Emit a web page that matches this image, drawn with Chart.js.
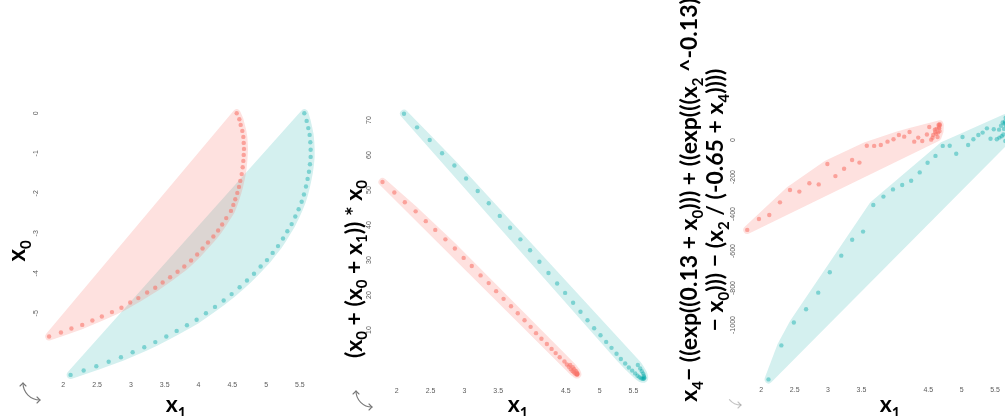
<!DOCTYPE html>
<html>
<head>
<meta charset="utf-8">
<script src="https://cdn.jsdelivr.net/npm/chart.js@4.4.0/dist/chart.umd.min.js"></script>
<style>
html, body { margin:0; padding:0; background:#fff; overflow:hidden; width:1005px; height:416px; }
canvas { position:absolute; top:0; }
</style>
</head>
<body>
<canvas id="p1" style="left:0px" width="335" height="416"></canvas>
<canvas id="p2" style="left:335px" width="335" height="416"></canvas>
<canvas id="p3" style="left:670px" width="370" height="416"></canvas>
<script>
// group A (red) and group B (teal); the same rows are used in all three panels
const x1A = [1.79,1.965,2.12,2.28,2.43,2.57,2.72,2.86,2.99,3.11,3.24,3.36,3.47,3.58,3.69,3.79,3.89,3.98,4.06,4.14,4.22,4.29,4.35,4.41,4.48,4.515,4.544,4.574,4.599,4.618,4.639,4.654,4.663,4.669,4.673,4.669,4.663,4.648,4.624,4.604,4.565];
const x0A = [-5.58,-5.48,-5.38,-5.29,-5.18,-5.08,-4.97,-4.86,-4.73,-4.62,-4.48,-4.36,-4.23,-4.10,-3.96,-3.83,-3.68,-3.53,-3.38,-3.23,-3.08,-2.93,-2.78,-2.62,-2.44,-2.29,-2.15,-1.99,-1.84,-1.69,-1.52,-1.35,-1.19,-1.04,-0.89,-0.74,-0.59,-0.44,-0.29,-0.15,0];
const fA = [52.3,49.3,46.5,43.9,41.1,38.6,35.9,33.3,30.6,28.3,25.6,23.4,21.1,18.9,16.8,14.8,12.8,10.9,9.1,7.5,6.0,4.6,3.4,2.2,1.0,0.15,-0.5,-1.2,-1.7,-2.1,-2.4,-2.6,-2.7,-2.7,-2.6,-2.4,-2.1,-1.7,-1.2,-0.65,0];
const gA = [-486,-427,-405,-337,-270,-279,-234,-240,-130,-195,-155,-108,-122,-31,-32,-27,-9,4,27,18,43,-9,13,-5,30,70,2,27,56,34,16,81,63,85,80,48,70,40,60,42,12];

const x1B = [2.108,2.301,2.488,2.671,2.853,3.026,3.198,3.361,3.524,3.677,3.829,3.972,4.110,4.244,4.372,4.490,4.608,4.717,4.821,4.919,5.013,5.097,5.176,5.250,5.314,5.378,5.432,5.481,5.526,5.560,5.590,5.614,5.634,5.649,5.659,5.659,5.654,5.644,5.624,5.600,5.565];
const x0B = [-6.54,-6.43,-6.325,-6.21,-6.10,-5.975,-5.85,-5.72,-5.58,-5.44,-5.30,-5.16,-5.00,-4.84,-4.68,-4.52,-4.35,-4.18,-4.01,-3.83,-3.67,-3.49,-3.32,-3.13,-2.95,-2.77,-2.58,-2.40,-2.21,-2.03,-1.83,-1.64,-1.46,-1.275,-1.09,-0.91,-0.725,-0.54,-0.37,-0.19,0];
const fB = [71.8,67.9,64.3,60.5,57.0,53.3,49.7,46.2,42.6,39.2,35.9,32.8,29.5,26.3,23.3,20.6,17.8,15.2,12.8,10.5,8.5,6.6,4.9,3.2,1.7,0.45,-0.7,-1.6,-2.4,-3.05,-3.5,-3.8,-3.95,-3.95,-3.8,-3.5,-3.05,-2.45,-1.8,-1.0,0];
const gB = [-1294,-1110,-986,-915,-825,-715,-625,-539,-495,-351,-306,-267,-243,-220,-175,-123,-86,-32,-31,-74,16,-27,4,27,40,63,7,58,4,56,77,95,60,100,80,120,-5,90,30,20,13];

const xTicks = [2,2.5,3,3.5,4,4.5,5,5.5];
const xLabels1 = ['2','2.5','3','3.5','4','4.5','5','5.5'];
const xLabels23 = ['2','2.5','3','3.5','','4.5','5','5.5'];
const yTicks1 = [0,-1,-2,-3,-4,-5];
const yTicks2 = [70,60,50,40,30,20,10];
const yTicks3 = [0,-200,-400,-600,-800,-1000];

const xTitle = 'x_1';
const yTitle1 = ['x_0'];
const yTitle2 = ['(x_0 + (x_0 + x_1)) * x_0'];
const yTitle3 = ['x_4\u2212 ((exp((0.13 + x_0))) + ((exp(((x_2 ^-0.13)', '\u2212 x_0))) \u2212 (x_2 / (-0.65 + x_4))))'];

const RED = '#F8766D', TEAL = '#12ABA8';
const TITLE_FONT = 'Lato, "Open Sans", sans-serif';

function convexHull(pts) {
	pts = pts.slice().sort((a, b) => a.x - b.x || a.y - b.y);
	const cross = (o, a, b) => (a.x - o.x) * (b.y - o.y) - (a.y - o.y) * (b.x - o.x);
	const lower = [], upper = [];
	for (const p of pts) {
		while (lower.length >= 2 && cross(lower[lower.length - 2], lower[lower.length - 1], p) <= 0) lower.pop();
		lower.push(p);
	}
	for (let i = pts.length - 1; i >= 0; i--) {
		const p = pts[i];
		while (upper.length >= 2 && cross(upper[upper.length - 2], upper[upper.length - 1], p) <= 0) upper.pop();
		upper.push(p);
	}
	upper.pop(); lower.pop();
	return lower.concat(upper);
}

// shaded hull behind each group, drawn from the point elements the library placed
const hullPlugin = {
	id: 'hulls',
	beforeDatasetsDraw(chart) {
		const ctx = chart.ctx;
		for (let i = chart.data.datasets.length - 1; i >= 0; i--) {
			const ds = chart.data.datasets[i];
			const meta = chart.getDatasetMeta(i);
			const h = convexHull(meta.data.map(e => ({x: e.x, y: e.y})));
			const off = document.createElement('canvas');
			off.width = chart.width; off.height = chart.height;
			const o = off.getContext('2d');
			o.beginPath();
			h.forEach((p, k) => k ? o.lineTo(p.x, p.y) : o.moveTo(p.x, p.y));
			o.closePath();
			o.fillStyle = ds.hullColor; o.strokeStyle = ds.hullColor;
			o.lineWidth = 8; o.lineJoin = 'round';
			o.fill(); o.stroke();
			ctx.save();
			ctx.globalAlpha = ds.hullAlpha;
			ctx.drawImage(off, 0, 0);
			ctx.restore();
		}
	}
};

function richParts(str) {
	const parts = [];
	for (let i = 0; i < str.length; i++) {
		if (str[i] === '_') { parts.push({t: str[i + 1], sub: true}); i++; continue; }
		const last = parts[parts.length - 1];
		if (last && !last.sub) last.t += str[i]; else parts.push({t: str[i], sub: false});
	}
	return parts;
}

function drawRich(ctx, str, x, y, rotate, size) {
	const parts = richParts(str);
	const f = 'bold ' + size + 'px ' + TITLE_FONT;
	const fs = 'bold ' + Math.round(size * 0.64) + 'px ' + TITLE_FONT;
	let w = 0;
	parts.forEach(p => { ctx.font = p.sub ? fs : f; p.w = ctx.measureText(p.t).width; w += p.w; });
	ctx.save();
	ctx.translate(x, y);
	if (rotate) ctx.rotate(-Math.PI / 2);
	ctx.fillStyle = '#000'; ctx.textAlign = 'left'; ctx.textBaseline = 'alphabetic';
	let cx = -w / 2;
	parts.forEach(p => { ctx.font = p.sub ? fs : f; ctx.fillText(p.t, cx, p.sub ? size * 0.24 : 0); cx += p.w; });
	ctx.restore();
}

function drawIcon(ctx, ic) {
	ctx.save();
	ctx.globalAlpha = ic.alpha;
	ctx.strokeStyle = '#777'; ctx.lineWidth = 1.1; ctx.lineCap = 'round';
	ctx.beginPath();
	ctx.arc(ic.x, ic.y, ic.r, Math.PI / 2, ic.end);
	ctx.stroke();
	const ex = ic.x, ey = ic.y + ic.r;
	ctx.beginPath(); ctx.moveTo(ex - 3, ey - 3); ctx.lineTo(ex, ey); ctx.lineTo(ex - 3, ey + 3); ctx.stroke();
	if (ic.end >= Math.PI) {
		const sx = ic.x - ic.r, sy = ic.y;
		ctx.beginPath(); ctx.moveTo(sx - 3, sy + 3); ctx.lineTo(sx, sy); ctx.lineTo(sx + 3, sy + 3); ctx.stroke();
	}
	ctx.restore();
}

// tick labels, axis titles and the small rotate icon
const decorPlugin = {
	id: 'decor',
	afterDraw(chart, args, opts) {
		const ctx = chart.ctx, xs = chart.scales.x, ys = chart.scales.y;
		ctx.save();
		ctx.fillStyle = '#5a5a5a';
		ctx.font = '7px "Liberation Sans", Arial, sans-serif';
		ctx.textAlign = 'center'; ctx.textBaseline = 'middle';
		xTicks.forEach((v, i) => ctx.fillText(opts.xLabels[i], xs.getPixelForValue(v), opts.xLabelY));
		opts.yTicks.forEach(v => {
			ctx.save();
			ctx.translate(opts.yLabelX, ys.getPixelForValue(v));
			ctx.rotate(-Math.PI / 2);
			ctx.fillText(String(v), 0, 0);
			ctx.restore();
		});
		ctx.restore();
		drawRich(ctx, xTitle, opts.xTitleX, 412, false, 23);
		opts.yTitle.forEach((t, i) => drawRich(ctx, t, opts.yTitleX[i], opts.yTitleY, true, opts.titleSize));
		drawIcon(ctx, opts.icon);
	}
};

function groupData(xv, yv) {
	return xv.map((x, i) => ({x: x, y: yv[i]}));
}

function makePanel(id, yA, yB, p) {
	return new Chart(document.getElementById(id), {
		type: 'scatter',
		data: {
			datasets: [
				{data: groupData(x1A, yA), pointRadius: 2.2, pointBorderWidth: 0, pointBackgroundColor: 'rgba(248,118,109,0.6)', hullColor: RED, hullAlpha: 0.22},
				{data: groupData(x1B, yB), pointRadius: 2.2, pointBorderWidth: 0, pointBackgroundColor: 'rgba(0,168,168,0.42)', hullColor: TEAL, hullAlpha: 0.18}
			]
		},
		options: {
			responsive: false,
			animation: false,
			events: [],
			layout: {padding: p.pad},
			plugins: {
				legend: {display: false},
				tooltip: {enabled: false},
				decor: p.decor
			},
			scales: {
				x: {type: 'linear', display: false, min: p.x[0], max: p.x[1]},
				y: {type: 'linear', display: false, min: p.y[0], max: p.y[1]}
			}
		},
		plugins: [hullPlugin, decorPlugin]
	});
}

makePanel('p1', x0A, x0B, {
	pad: {left: 40, right: 15, top: 100, bottom: 31},
	x: [1.6553, 5.7973], y: [-6.7925, 0.3325],
	decor: {xLabels: xLabels1, xLabelY: 385, yTicks: yTicks1, yLabelX: 36, xTitleX: 176,
		yTitle: yTitle1, yTitleX: [25], yTitleY: 251, titleSize: 24,
		icon: {x: 40, y: 383, r: 17, end: Math.PI, alpha: 1}}
});

makePanel('p2', fA, fB, {
	pad: {left: 40, right: 10, top: 100, bottom: 24},
	x: [1.6792, 5.8927], y: [-7.714, 75.714],
	decor: {xLabels: xLabels23, xLabelY: 391, yTicks: yTicks2, yLabelX: 34.3, xTitleX: 183,
		yTitle: yTitle2, yTitleX: [26.5], yTitleY: 269, titleSize: 23,
		icon: {x: 37, y: 391, r: 16, end: Math.PI, alpha: 1}}
});

makePanel('p3', gA, gB, {
	pad: {left: 60, right: 0, top: 60, bottom: 21},
	x: [1.532, 6.113], y: [-1378.2, 432.4],
	decor: {xLabels: xLabels23, xLabelY: 390, yTicks: yTicks3, yLabelX: 62.7, xTitleX: 220,
		yTitle: yTitle3, yTitleX: [27, 53], yTitleY: 200, titleSize: 23,
		icon: {x: 71, y: 390, r: 15, end: Math.PI * 0.78, alpha: 0.45}}
});
</script>
</body>
</html>
